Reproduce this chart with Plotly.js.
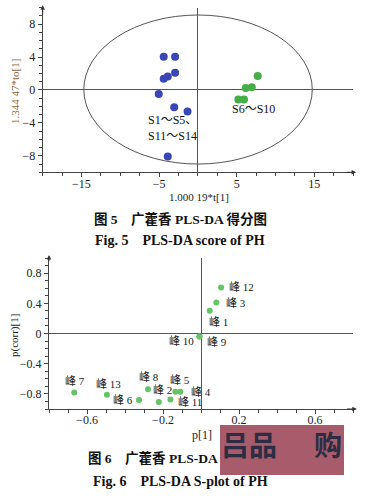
<!DOCTYPE html>
<html>
<head>
<meta charset="utf-8">
<script src="https://cdn.plot.ly/plotly-3.0.1.min.js"></script>
<style>html,body{margin:0;padding:0;background:#fff;}#chart{width:367px;height:497px;}</style>
</head>
<body>
<div id="chart"></div>
<script>
// ---- Fig.5 PLS-DA score data ----
const groupAName = 'S1～S5、S11～S14';
const groupAX = [-4.4, -2.93, -2.93, -3.88, -4.4, -5.04, -3.05, -1.33, -3.88];
const groupAY = [4.04, 4.04, 2.1, 1.62, 1.37, -0.49, -2.1, -2.63, -8.09];
const groupBName = 'S6～S10';
const groupBX = [7.72, 6.95, 6.17, 5.22, 5.95];
const groupBY = [1.7, 0.33, 0.24, -1.17, -1.17];
const scoreTickVals = [-15, -5, 5, 15];
const scoreYTickVals = [-8, -4, 0, 4, 8];

// ---- Fig.6 S-plot data ----
const peakLabels = ['峰 1','峰 2','峰 3','峰 4','峰 5','峰 6','峰 7','峰 8','峰 9','峰 10','峰 11','峰 12','峰 13'];
const peakP    = [0.046, -0.222, 0.081, -0.109, -0.135, -0.326, -0.667, -0.279, -0.008, -0.008, -0.161, 0.106, -0.495];
const peakCorr = [0.30, -0.906, 0.41, -0.77, -0.77, -0.88, -0.78, -0.74, -0.04, -0.04, -0.875, 0.61, -0.81];
const splotXTicks = [-0.6, -0.2, 0.2, 0.6];
const splotYTicks = [-0.8, -0.4, 0, 0.4, 0.8];

// label placement (pixel offsets, styling only)
const peakLabelStyle = [
  {xa:'left', xs:-3, ys:-11}, {xa:'center', xs:4, ys:12}, {xa:'left', xs:8, ys:0},
  {xa:'left', xs:9, ys:0}, {xa:'center', xs:5, ys:12}, {xa:'right', xs:-4, ys:0},
  {xa:'center', xs:1, ys:11}, {xa:'center', xs:1, ys:12}, {xa:'left', xs:6, ys:-5},
  {xa:'right', xs:-3, ys:-4}, {xa:'left', xs:6, ys:-2}, {xa:'left', xs:6, ys:0},
  {xa:'center', xs:2, ys:11}
];

const W = 367, H = 497;
const px = v => v / W;
const py = v => 1 - v / H;
const SERIF = 'Liberation Serif, "Times New Roman", "Noto Sans CJK SC", serif';
const MIXED = 'Liberation Serif, "Noto Sans CJK SC", serif';

const traces = [
  {x: groupAX, y: groupAY, xaxis:'x', yaxis:'y', type:'scatter', mode:'markers', name: groupAName,
   marker:{color:'#3a46b6', size:8}},
  {x: groupBX, y: groupBY, xaxis:'x', yaxis:'y', type:'scatter', mode:'markers', name: groupBName,
   marker:{color:'#47ad47', size:8}},
  {x: peakP, y: peakCorr, text: peakLabels, xaxis:'x2', yaxis:'y2', type:'scatter', mode:'markers', name:'peaks',
   marker:{color:'#62c462', size:6}}
];

const axisCommon = {
  showgrid:false, showline:true, linecolor:'#444', linewidth:1,
  zeroline:true, zerolinecolor:'#555', zerolinewidth:1,
  ticks:'outside', ticklen:4, tickcolor:'#444',
  tickfont:{family:SERIF, size:12, color:'#222'},
  fixedrange:true
};

const annotations = [];
// group labels (top)
annotations.push({xref:'x', yref:'y', x:-6.64, y:-3.64, xanchor:'left', yanchor:'middle', showarrow:false,
  text:'S1～S5、', font:{family:MIXED, size:12, color:'#111'}});
annotations.push({xref:'x', yref:'y', x:-6.64, y:-5.58, xanchor:'left', yanchor:'middle', showarrow:false,
  text:'S11～S14', font:{family:MIXED, size:12, color:'#111'}});
annotations.push({xref:'x', yref:'y', x:4.19, y:-2.34, xanchor:'left', yanchor:'middle', showarrow:false,
  text:'S6～S10', font:{family:MIXED, size:12, color:'#111'}});
// peak labels
peakLabels.forEach((t, i) => {
  const s = peakLabelStyle[i];
  annotations.push({xref:'x2', yref:'y2', x:peakP[i], y:peakCorr[i], text:t, showarrow:false,
    xanchor:s.xa, yanchor:'middle', xshift:s.xs, yshift:s.ys,
    font:{family:MIXED, size:11, color:'#222'}});
});
// axis titles
annotations.push({xref:'paper', yref:'paper', x:px(15), y:py(92), text:'1.344 47*to[1]', textangle:-90,
  showarrow:false, xanchor:'center', yanchor:'middle', font:{family:SERIF, size:11, color:'#94663f'}});
annotations.push({xref:'paper', yref:'paper', x:px(199), y:py(197), text:'1.000 19*t[1]',
  showarrow:false, xanchor:'center', yanchor:'middle', font:{family:SERIF, size:11, color:'#222'}});
annotations.push({xref:'paper', yref:'paper', x:px(14), y:py(336), text:'p(corr)[1]', textangle:-90,
  showarrow:false, xanchor:'center', yanchor:'middle', font:{family:SERIF, size:11, color:'#222'}});
annotations.push({xref:'paper', yref:'paper', x:px(202), y:py(435), text:'p[1]',
  showarrow:false, xanchor:'center', yanchor:'middle', font:{family:SERIF, size:12, color:'#222'}});
// axis arrows
annotations.push({xref:'x', yref:'y', x:20.4, y:-10, axref:'x', ayref:'y', ax:19, ay:-10,
  showarrow:true, arrowhead:2, arrowsize:0.9, arrowwidth:1, arrowcolor:'#333', text:''});
annotations.push({xref:'x', yref:'y', x:-20, y:10.3, axref:'x', ayref:'y', ax:-20, ay:9,
  showarrow:true, arrowhead:2, arrowsize:0.9, arrowwidth:1, arrowcolor:'#333', text:''});
annotations.push({xref:'x2', yref:'y2', x:0.82, y:-1, axref:'x2', ayref:'y2', ax:0.76, ay:-1,
  showarrow:true, arrowhead:2, arrowsize:0.9, arrowwidth:1, arrowcolor:'#333', text:''});
annotations.push({xref:'x2', yref:'y2', x:-0.8, y:1.04, axref:'x2', ayref:'y2', ax:-0.8, ay:0.94,
  showarrow:true, arrowhead:2, arrowsize:0.9, arrowwidth:1, arrowcolor:'#333', text:''});
// captions
annotations.push({xref:'paper', yref:'paper', x:px(180), y:py(219), text:'<b>图 5　广藿香 PLS-DA 得分图</b>',
  showarrow:false, xanchor:'center', yanchor:'middle', font:{family:MIXED, size:13.5, color:'#111'}});
annotations.push({xref:'paper', yref:'paper', x:px(180), y:py(241), text:'<b>Fig. 5　PLS-DA score of PH</b>',
  showarrow:false, xanchor:'center', yanchor:'middle', font:{family:SERIF, size:14, color:'#111'}});
annotations.push({xref:'paper', yref:'paper', x:px(86), y:py(458), text:'<b>图 6　广藿香 PLS-DA</b>',
  showarrow:false, xanchor:'left', yanchor:'middle', font:{family:MIXED, size:13.5, color:'#111'}});
annotations.push({xref:'paper', yref:'paper', x:px(180), y:py(481), text:'<b>Fig. 6　PLS-DA S-plot of PH</b>',
  showarrow:false, xanchor:'center', yanchor:'middle', font:{family:SERIF, size:14, color:'#111'}});
// watermark glyphs
annotations.push({xref:'paper', yref:'paper', x:px(219), y:py(444), text:'<b>吕品</b>',
  showarrow:false, xanchor:'left', yanchor:'middle', font:{family:'"Noto Sans CJK SC", sans-serif', size:28, color:'#2c2d42'}});
annotations.push({xref:'paper', yref:'paper', x:px(344), y:py(444), text:'<b>购</b>',
  showarrow:false, xanchor:'right', yanchor:'middle', font:{family:'"Noto Sans CJK SC", sans-serif', size:28, color:'#2c2d42'}});

const layout = {
  width: W, height: H,
  margin:{l:0, r:0, t:0, b:0},
  paper_bgcolor:'#fff', plot_bgcolor:'#fff',
  showlegend:false,
  xaxis: Object.assign({}, axisCommon, {
    domain:[px(42.7), px(353)], anchor:'y', range:[-20, 20],
    tickmode:'array', tickvals: scoreTickVals, ticklabelstandoff:-4,
    minor:{dtick:2.5, tick0:0, ticks:'outside', ticklen:3, tickcolor:'#444', showgrid:false}
  }),
  yaxis: Object.assign({}, axisCommon, {
    domain:[py(172.3), py(7.6)], anchor:'x', range:[-10, 10],
    tickmode:'array', tickvals: scoreYTickVals,
    minor:{dtick:1, tick0:0, ticks:'outside', ticklen:3, tickcolor:'#444', showgrid:false}
  }),
  xaxis2: Object.assign({}, axisCommon, {
    domain:[px(49), px(353)], anchor:'y2', range:[-0.8, 0.8],
    tickmode:'array', tickvals: splotXTicks, ticklabelstandoff:-4,
    minor:{dtick:0.1, tick0:0, ticks:'outside', ticklen:3, tickcolor:'#444', showgrid:false}
  }),
  yaxis2: Object.assign({}, axisCommon, {
    domain:[py(409), py(258)], anchor:'x2', range:[-1, 1],
    tickmode:'array', tickvals: splotYTicks,
    minor:{dtick:0.1, tick0:0, ticks:'outside', ticklen:3, tickcolor:'#444', showgrid:false}
  }),
  shapes:[
    {type:'circle', xref:'x', yref:'y', x0:-14.7, x1:14.75, y0:-9.0, y1:9.1,
     line:{color:'#555', width:1}, layer:'below'},
    {type:'rect', xref:'paper', yref:'paper', x0:px(220), x1:px(344), y0:py(475), y1:py(425),
     fillcolor:'#a85b6b', line:{width:0}, layer:'above'}
  ],
  annotations: annotations
};

Plotly.newPlot('chart', traces, layout, {staticPlot:true, displayModeBar:false});
</script>
</body>
</html>
